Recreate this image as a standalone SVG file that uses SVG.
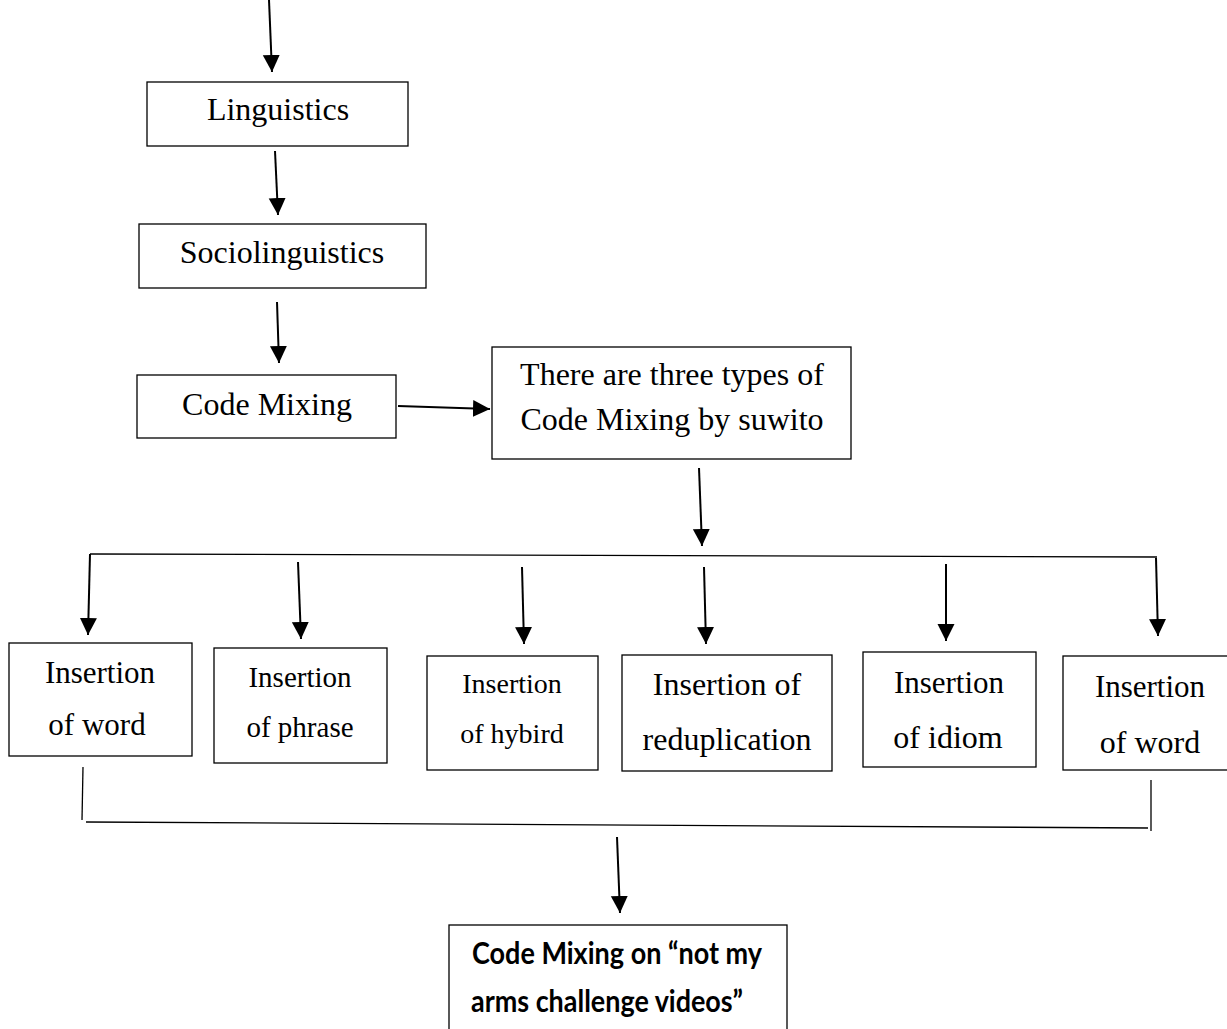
<svg xmlns="http://www.w3.org/2000/svg" width="1227" height="1029" viewBox="0 0 1227 1029">
<style>
.box{fill:#fff;stroke:#000;stroke-width:1.3}
.t{font-family:"Liberation Serif","Times New Roman",serif;font-size:32px;fill:#000;text-anchor:middle}
.c{stroke:#000;stroke-width:2;fill:none}
.l{stroke:#000;stroke-width:1.3;fill:none}
.b{font-family:Lato,"Open Sans",sans-serif;font-weight:bold;font-size:30px;fill:#000}
</style>
<defs>
<marker id="ah" markerUnits="userSpaceOnUse" markerWidth="18" markerHeight="18" viewBox="0 0 18 18" refX="17" refY="9" orient="auto">
<path d="M0,0.5 L17,9 L0,17.5 Z" fill="#000"/>
</marker>
</defs>
<rect width="1227" height="1029" fill="#fff"/>
<g id="connectors">
<line class="c" x1="269" y1="0" x2="272" y2="72" marker-end="url(#ah)"/>
<line class="c" x1="275" y1="151" x2="278" y2="215" marker-end="url(#ah)"/>
<line class="c" x1="277" y1="302" x2="279" y2="363" marker-end="url(#ah)"/>
<line class="c" x1="398" y1="406" x2="490" y2="409" marker-end="url(#ah)"/>
<line class="c" x1="699" y1="468" x2="702" y2="546" marker-end="url(#ah)"/>
<line class="l" x1="90" y1="554" x2="1157" y2="557"/>
<line class="c" x1="90" y1="554" x2="88" y2="635" marker-end="url(#ah)"/>
<line class="c" x1="298" y1="562" x2="301" y2="639" marker-end="url(#ah)"/>
<line class="c" x1="522" y1="567" x2="524" y2="644" marker-end="url(#ah)"/>
<line class="c" x1="704" y1="567" x2="706" y2="644" marker-end="url(#ah)"/>
<line class="c" x1="946" y1="564" x2="946" y2="641" marker-end="url(#ah)"/>
<line class="c" x1="1156" y1="558" x2="1158" y2="636" marker-end="url(#ah)"/>
<line class="l" x1="83" y1="767" x2="82" y2="820"/>
<line class="l" x1="86" y1="822" x2="1148" y2="828"/>
<line class="l" x1="1151" y1="780" x2="1151" y2="831"/>
<line class="c" x1="617" y1="837" x2="620" y2="913" marker-end="url(#ah)"/>
</g>
<g id="linguistics"><rect class="box" x="147" y="82" width="261" height="64"/><text class="t" x="278" y="120">Linguistics</text></g>
<g id="sociolinguistics"><rect class="box" x="139" y="224" width="287" height="64"/><text class="t" x="282" y="263">Sociolinguistics</text></g>
<g id="codemixing"><rect class="box" x="137" y="375" width="259" height="63"/><text class="t" x="267" y="415">Code Mixing</text></g>
<g id="types"><rect class="box" x="492" y="347" width="359" height="112"/><text class="t" x="672" y="385">There are three types of</text><text class="t" x="672" y="430">Code Mixing by suwito</text></g>
<g id="word1"><rect class="box" x="9" y="643" width="183" height="113"/><text class="t" x="100" y="683" style="font-size:31px">Insertion</text><text class="t" x="97" y="735" style="font-size:31px">of word</text></g>
<g id="phrase"><rect class="box" x="214" y="648" width="173" height="115"/><text class="t" x="300" y="687" style="font-size:29px">Insertion</text><text class="t" x="300" y="737" style="font-size:29px">of phrase</text></g>
<g id="hybird"><rect class="box" x="427" y="656" width="171" height="114"/><text class="t" x="512" y="693" style="font-size:28px">Insertion</text><text class="t" x="512" y="743" style="font-size:28px">of hybird</text></g>
<g id="reduplication"><rect class="box" x="622" y="655" width="210" height="116"/><text class="t" x="727" y="695">Insertion of</text><text class="t" x="727" y="750">reduplication</text></g>
<g id="idiom"><rect class="box" x="863" y="652" width="173" height="115"/><text class="t" x="949" y="693" style="font-size:31px">Insertion</text><text class="t" x="948" y="748">of idiom</text></g>
<g id="word2"><rect class="box" x="1063" y="656" width="170" height="114"/><text class="t" x="1150" y="697" style="font-size:31px">Insertion</text><text class="t" x="1150" y="753">of word</text></g>
<g id="result"><rect class="box" x="449" y="925" width="338" height="120"/><text class="b" x="472" y="964" textLength="290" lengthAdjust="spacingAndGlyphs">Code Mixing on “not my</text><text class="b" x="471" y="1012" textLength="272" lengthAdjust="spacingAndGlyphs">arms challenge videos”</text></g>
</svg>
